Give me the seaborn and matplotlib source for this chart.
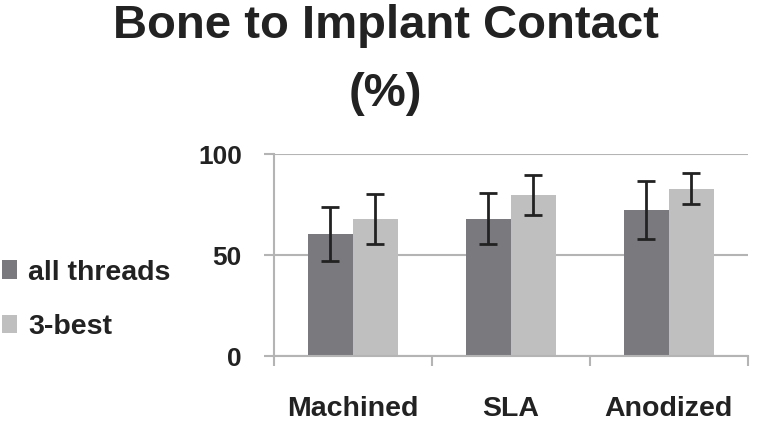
import numpy as np
import pandas as pd
import matplotlib
matplotlib.use('Agg')
import matplotlib.pyplot as plt
import seaborn as sns
from matplotlib.patches import Patch
from matplotlib.ticker import FixedLocator

# data
surfaces = ['Machined', 'SLA', 'Anodized']
groups = ['all threads', '3-best']
all_threads = [60.5, 68.1, 72.2]
all_threads_err = [13.5, 12.8, 14.4]
best3 = [67.8, 79.8, 82.9]
best3_err = [12.3, 9.7, 7.8]
y_ticks = [0, 50, 100]

colors = ['#7a7a7e', '#bfbfc0']
grid_col = '#b4b4b4'
text_col = '#222222'

df = pd.DataFrame({
    'Surface': surfaces * 2,
    'Group': [groups[0]] * 3 + [groups[1]] * 3,
    'BIC': all_threads + best3,
})
errs = {groups[0]: all_threads_err, groups[1]: best3_err}

sns.set_style('white')
plt.rcParams['font.family'] = ['Liberation Sans', 'DejaVu Sans']
plt.rcParams['font.weight'] = 'bold'

fig = plt.figure(figsize=(7.71, 4.26), dpi=100)
ax = fig.add_axes([0.355, 0.164, 0.615, 0.474])

sns.barplot(data=df, x='Surface', y='BIC', hue='Group', order=surfaces,
            hue_order=groups, palette=colors, width=0.57, errorbar=None,
            saturation=1, ax=ax, legend=False, linewidth=0)

# error bars on each bar
for cont, g in zip(ax.containers, groups):
    for bar, e in zip(cont, errs[g]):
        xc = bar.get_x() + bar.get_width() / 2
        ax.errorbar(xc, bar.get_height(), yerr=e, color=text_col,
                    lw=2, capsize=6.5, capthick=2, zorder=5)

ax.set_ylim(0, 100)
ax.set_xlim(-0.5, len(surfaces) - 0.5)
ax.set_yticks(y_ticks)
ax.yaxis.grid(True, color=grid_col, lw=1.5)
ax.set_axisbelow(True)
ax.set_xlabel('')
ax.set_ylabel('')

for s in ['top', 'right']:
    ax.spines[s].set_visible(False)
for s in ['left', 'bottom']:
    ax.spines[s].set_color(grid_col)
    ax.spines[s].set_linewidth(1.5)

ax.tick_params(axis='y', length=7, width=1.5, color=grid_col, pad=16,
               labelsize=19, labelcolor=text_col, left=True)
ax.tick_params(axis='x', which='major', length=0, pad=29,
               labelsize=20.5, labelcolor=text_col)
ax.xaxis.set_minor_locator(FixedLocator(np.arange(-0.5, len(surfaces), 1.0)))
ax.tick_params(axis='x', which='minor', length=7, width=1.5, color=grid_col,
               bottom=True)
for lbl in ax.get_xticklabels() + ax.get_yticklabels():
    lbl.set_fontweight('bold')

fig.text(0.5, 0.911, 'Bone to Implant Contact', ha='center', va='baseline',
         fontsize=34, fontweight='bold', color=text_col)
fig.text(0.5, 0.751, '(%)', ha='center', va='baseline',
         fontsize=34, fontweight='bold', color=text_col)

handles = [Patch(facecolor=c, edgecolor='none') for c in colors]
leg = fig.legend(handles, groups, loc='center left',
                 bbox_to_anchor=(0.003, 0.296), frameon=False,
                 borderaxespad=0, borderpad=0,
                 prop={'size': 20.5, 'weight': 'bold'}, labelcolor=text_col,
                 handlelength=0.52, handleheight=0.62, handletextpad=0.38,
                 labelspacing=1.0)

fig.savefig('out.png', dpi=100)
